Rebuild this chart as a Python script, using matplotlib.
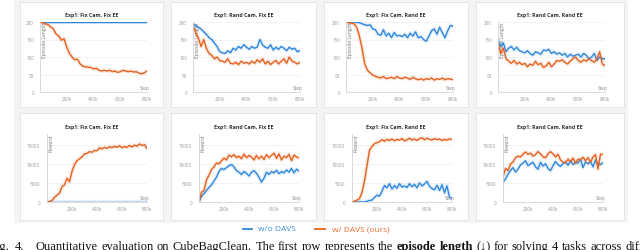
import numpy as np
import matplotlib.pyplot as plt
from matplotlib.patches import Rectangle

W, H = 640, 251
DPI = 100

BLUE = "#2f87dc"
ORANGE = "#e5601e"

# training steps, every 20k
steps = np.arange(0, 801, 20) * 1000

titles = ["Exp1: Fix Cam, Fix EE", "Exp1: Rand Cam, Fix EE",
          "Exp1: Fix Cam, Rand EE", "Exp1: Rand Cam, Rand EE"]

# ---- episode length (top row) ----
len_fcfe_wo = [200] * 41
len_fcfe_w = [199, 198, 195, 192, 186, 180, 166, 160, 148, 152, 128, 110, 100, 92,
              94, 80, 74, 72, 71, 70, 66, 68, 62, 60, 62, 60, 62, 58, 60, 56, 58,
              62, 60, 58, 60, 57, 58, 54, 52, 55, 60]

len_rcfe_wo = [195, 190, 185, 180, 172, 165, 155, 150, 140, 130, 115, 112, 110, 118,
               112, 125, 120, 130, 125, 135, 128, 122, 130, 125, 128, 150, 135, 128,
               125, 135, 120, 128, 122, 130, 125, 118, 128, 122, 125, 115, 118]
len_rcfe_w = [190, 170, 155, 130, 150, 125, 110, 105, 95, 100, 90, 88, 85, 95, 82,
              80, 85, 78, 88, 82, 85, 80, 88, 82, 92, 85, 95, 80, 88, 78, 85, 90,
              80, 88, 95, 82, 100, 88, 85, 80, 85]

len_fcre_wo = [200, 200, 200, 200, 199, 198, 195, 192, 190, 192, 180, 178, 165, 162,
               178, 160, 168, 155, 170, 160, 162, 158, 165, 155, 168, 160, 172, 155,
               158, 150, 145, 160, 175, 180, 165, 185, 170, 155, 175, 190, 188]
len_fcre_w = [200, 198, 196, 195, 185, 160, 125, 80, 62, 55, 48, 45, 42, 40, 44, 38,
              40, 42, 38, 44, 40, 38, 42, 40, 36, 42, 38, 35, 38, 34, 38, 36, 40, 34,
              38, 36, 40, 35, 38, 37, 35]

len_rcre_wo = [150, 130, 140, 115, 125, 130, 120, 128, 118, 115, 112, 118, 110, 105,
               115, 112, 108, 120, 118, 122, 110, 115, 108, 112, 105, 110, 100, 108,
               102, 105, 108, 100, 110, 105, 95, 100, 110, 90, 100, 95, 95]
len_rcre_w = [140, 110, 125, 95, 88, 82, 90, 80, 85, 78, 82, 72, 80, 76, 88, 78, 82,
              70, 75, 85, 72, 80, 90, 88, 92, 85, 80, 88, 95, 100, 90, 85, 92, 88,
              95, 90, 85, 95, 115, 80, 75]

# ---- reward (bottom row) ----
rew_fcfe_wo = [0] * 41
rew_fcfe_w = [0, 100, 400, 1200, 1800, 2300, 4000, 4500, 6200, 5300, 8000, 9800,
              10800, 11300, 11800, 12600, 12700, 13200, 13000, 13500, 13400, 14200,
              13900, 14300, 14000, 14500, 14200, 14600, 14300, 14700, 14200, 14500,
              14300, 14800, 14400, 14900, 14600, 15200, 14800, 15000, 14000]

rew_rcfe_wo = [0, 1500, 2200, 3000, 3800, 4500, 5500, 6500, 8000, 8800, 8500, 9000,
               9500, 9800, 9200, 8200, 7800, 7200, 8000, 7500, 6800, 7800, 8200, 7500,
               6500, 5200, 6200, 7800, 7200, 8000, 7600, 8300, 7400, 8000, 7600, 8400,
               7800, 8800, 7600, 8600, 8100]
rew_rcfe_w = [0, 2600, 3000, 5800, 7000, 8500, 9200, 10200, 10000, 10800, 11500,
              11000, 12300, 11800, 12400, 11600, 12000, 11300, 12500, 11600, 12200,
              11800, 11000, 12200, 11300, 12000, 11100, 12400, 11600, 12200, 12800,
              11400, 12600, 11000, 12000, 11600, 12500, 10800, 12300, 11800, 11500]

rew_fcre_wo = [0, 0, 0, 0, 0, 0, 200, 400, 500, 1200, 1800, 1500, 2800, 4300, 3700,
               4800, 3400, 4300, 3600, 4800, 3900, 4200, 3800, 4800, 4000, 4600, 3700,
               5000, 4200, 4700, 5400, 4100, 3500, 3200, 4400, 3000, 4500, 2400, 4200,
               1200, 1100]
rew_fcre_w = [0, 200, 500, 900, 2500, 5500, 9500, 13600, 14500, 15300, 15500, 15800,
              16300, 15900, 16400, 16100, 16500, 16000, 16400, 16200, 16600, 16000,
              16300, 16700, 16200, 16500, 16100, 16600, 16800, 16300, 16700, 16400,
              16200, 16600, 16300, 16500, 16100, 16400, 16200, 16500, 16400]

rew_rcre_wo = [5200, 6000, 7300, 8200, 9000, 7800, 8600, 9700, 10200, 10800, 9500,
               10000, 10400, 9200, 8600, 10400, 9400, 10000, 8800, 8200, 9500, 10600,
               9800, 9300, 10000, 10500, 9600, 10800, 9800, 10300, 10200, 11200, 9000,
               10500, 10000, 10600, 9200, 11000, 10000, 9800, 10300]
rew_rcre_w = [6500, 8800, 8200, 9900, 10500, 11600, 12000, 11800, 12500, 13100,
              12500, 12800, 12000, 12400, 13200, 12600, 11800, 11600, 12600, 13200,
              12600, 11800, 12500, 11000, 10400, 10300, 11200, 10600, 11500, 10200,
              11200, 11000, 11700, 10800, 11600, 10400, 11800, 12400, 8600, 12500,
              12500]

length_wo = [len_fcfe_wo, len_rcfe_wo, len_fcre_wo, len_rcre_wo]
length_w = [len_fcfe_w, len_rcfe_w, len_fcre_w, len_rcre_w]
reward_wo = [rew_fcfe_wo, rew_rcfe_wo, rew_fcre_wo, rew_rcre_wo]
reward_w = [rew_fcfe_w, rew_rcfe_w, rew_fcre_w, rew_rcre_w]

# ---- layout in pixels ----
card_x = [20, 171, 324, 476]
card_w = [143, 145, 144, 148]
top_left = [40, 193, 346, 498]
bot_left = [47, 199, 352, 503]

plt.rcParams["font.family"] = ["Open Sans", "DejaVu Sans"]

fig = plt.figure(figsize=(W / DPI, H / DPI), dpi=DPI)
bg = fig.add_axes([0, 0, 1, 1])
bg.set_xlim(0, W)
bg.set_ylim(H, 0)
bg.axis("off")

bg.add_patch(Rectangle((14, 0), 614, 224, facecolor="#f4f4f4", edgecolor="none"))
for cx, cw, t in zip(card_x, card_w, titles):
    for cy, ch, ty in [(3, 105, 16), (114, 107, 127)]:
        bg.add_patch(Rectangle((cx, cy), cw, ch, facecolor="white",
                               edgecolor="#e2e2e2", lw=0.6))
        bg.text(cx + cw / 2, ty, t, ha="center", va="center", fontsize=3.8,
                fontweight="bold", color="#333333")


def panel(left, top, width, height, wo, w, ymax, yticks, ylabel, ypad):
    ax = fig.add_axes([left / W, 1 - (top + height) / H, width / W, height / H])
    ax.set_facecolor("none")
    for vals, c in ((wo, BLUE), (w, ORANGE)):
        ax.plot(steps, vals, color=c, lw=3.0, alpha=0.12)
        ax.plot(steps, vals, color=c, lw=1.0)
    ax.set_xlim(0, 800000)
    ax.set_ylim(0, ymax)
    ax.set_yticks(yticks)
    ax.set_yticklabels([str(v) for v in yticks])
    ax.set_xticks([200000, 400000, 600000, 800000])
    ax.set_xticklabels(["200k", "400k", "600k", "800k"])
    ax.tick_params(length=0, labelsize=3.3, labelcolor="#9a9a9a")
    ax.tick_params(axis="y", pad=ypad)
    ax.tick_params(axis="x", pad=3.2)
    ax.yaxis.grid(True, color="#efefef", lw=0.5)
    ax.set_axisbelow(True)
    for s in ("top", "right"):
        ax.spines[s].set_visible(False)
    for s in ("left", "bottom"):
        ax.spines[s].set_color("#d4d4d4")
        ax.spines[s].set_linewidth(0.6)
    ax.annotate(ylabel, xy=(0, 1), xycoords="axes fraction", xytext=(1.2, 0),
                textcoords="offset points", rotation=90, ha="left", va="top",
                fontsize=3.6, color="#777777", zorder=1)
    ax.annotate("Step", xy=(1, 0), xycoords="axes fraction", xytext=(2, 1.5),
                textcoords="offset points", ha="right", va="bottom",
                fontsize=3.4, color="#888888")
    return ax


for i in range(4):
    panel(top_left[i], 23, 107, 70, length_wo[i], length_w[i], 200,
          [0, 50, 100, 150, 200], "Episode Length", 4.3)
    panel(bot_left[i], 135, 100, 68, reward_wo[i], reward_w[i], 17800,
          [0, 5000, 10000, 15000], "Reward", 5.0)

# legend
bg.plot([243, 252], [230, 230], color=BLUE, lw=1.3)
bg.text(258, 230, "w/o DAVS", va="center", ha="left", fontsize=6, color="#3a8ee6")
bg.plot([315, 325], [230, 230], color=ORANGE, lw=1.3)
bg.text(332, 230, "w/ DAVS (ours)", va="center", ha="left", fontsize=6,
        color="#ee6a2a")

# caption (justified line, cut by the image edge)
serif = ["Liberation Serif", "DejaVu Serif"]
cap_y = 250
cap_fs = 9
bg.text(10, cap_y, "Fig.", ha="right", va="baseline", fontsize=cap_fs,
        family=serif, color="#111111")
bg.text(15, cap_y, "4.", ha="left", va="baseline", fontsize=cap_fs,
        family=serif, color="#111111")
words = ["Quantitative", "evaluation", "on", "CubeBagClean.", "The", "first", "row",
         "represents", "the", "episode", "length", "(\u2193)", "for", "solving", "4",
         "tasks", "across", "different"]
bold = {"episode", "length"}
renderer = fig.canvas.get_renderer()
items = []
for wd in words:
    t = bg.text(0, cap_y, wd, ha="left", va="baseline", fontsize=cap_fs, family=serif,
                fontweight="bold" if wd in bold else "normal", color="#111111")
    items.append((t, t.get_window_extent(renderer).width))
x0, x1 = 36, 625
gap = (x1 - x0 - sum(wd for _, wd in items[:-1])) / (len(items) - 1)
x = x0
for t, wd in items:
    t.set_x(x)
    x += wd + gap

fig.savefig("out.png", dpi=DPI)
